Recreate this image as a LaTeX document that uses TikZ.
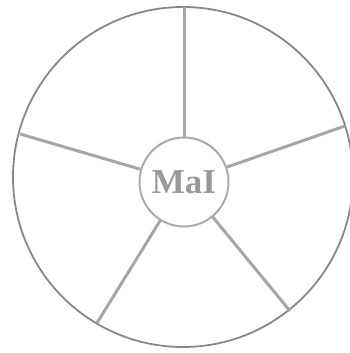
\documentclass[tikz,border=0pt]{standalone}
\usepackage{fontspec}
\setmainfont{Liberation Serif}
\begin{document}
\begin{tikzpicture}[x=1pt,y=-1pt,
  rim/.style={draw=black!47, line width=1.8pt},
  spoke/.style={draw=black!35, line width=3pt},
  hub/.style={circle, draw=black!33, line width=2pt, fill=white, inner sep=0pt, minimum size=89pt},
  label/.style={font=\fontsize{35}{35}\selectfont\bfseries, text=black!40, inner sep=0pt}]
\useasboundingbox (0,0) rectangle (350,353);
\draw[rim] (183,177) circle (170);
\node[hub] (h) at (184,182) {};
\node[label] (t) at (184,182) {MaI};
\coordinate (p1) at (184,7);
\coordinate (p2) at (345,126);
\coordinate (p3) at (290,311);
\coordinate (p4) at (97,323);
\coordinate (p5) at (20,134);
\foreach \p in {p1,p2,p3,p4,p5} \draw[spoke] (h) -- (\p);
\end{tikzpicture}
\end{document}
